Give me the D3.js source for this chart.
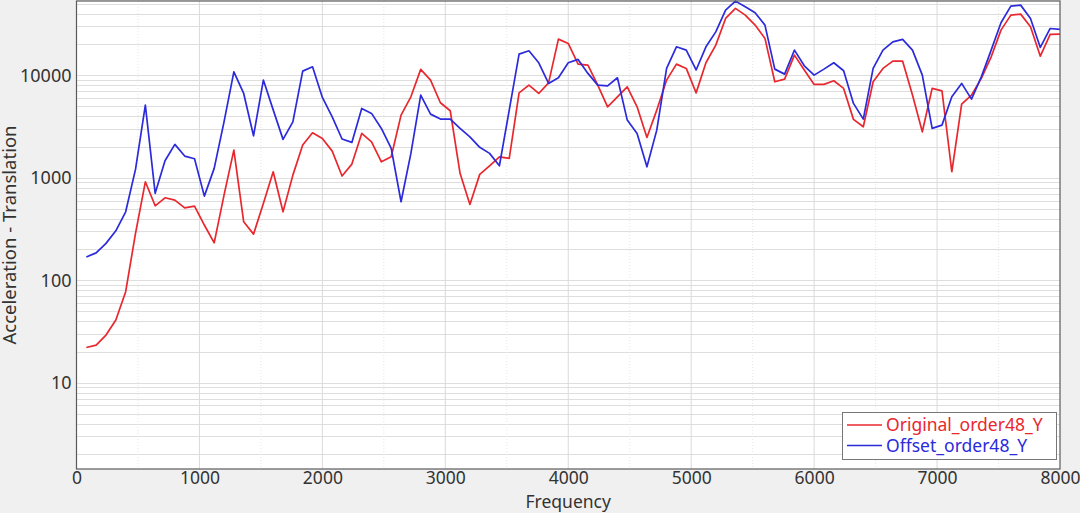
<!DOCTYPE html>
<html>
<head>
<meta charset="utf-8">
<script src="https://cdn.jsdelivr.net/npm/d3@7"></script>
<style>
html,body{margin:0;padding:0;background:#f0f0f0;}
svg{display:block;font-family:"Noto Sans","Open Sans",sans-serif;}
</style>
</head>
<body>
<svg id="chart" width="1080" height="513"></svg>
<script>
// Frequency (Hz), 80 Hz steps
const frequencies = d3.range(1, 101).map(k => k * 80);
const originalY = [
  22.1, 23.3, 29.2, 40.9, 77.3, 287, 914, 533, 638, 606,
  509, 529, 346, 232, 678, 1862, 372, 282, 562, 1145,
  466, 1062, 2085, 2750, 2420, 1820, 1040, 1360, 2710, 2245,
  1432, 1603, 4090, 6170, 11420, 8980, 5400, 4510, 1105, 550,
  1080, 1310, 1603, 1545, 6740, 8020, 6650, 8430, 22540, 20470,
  12850, 12580, 8020, 4930, 6170, 7720, 4930, 2477, 4570, 8980,
  12850, 11670, 6740, 13250, 19720, 35900, 44950, 38640, 30900, 22900,
  8650, 9180, 15740, 11250, 8150, 8150, 8840, 7450, 3715, 3145,
  8650, 11670, 13740, 13740, 6410, 2810, 7450, 7060, 1145, 5240,
  6410, 9330, 15140, 27600, 38640, 39550, 29720, 15380, 25060, 25240
];
const offsetY = [
  169, 185, 229, 304, 466, 1208, 5120, 705, 1466, 2118,
  1629, 1532, 662, 1236, 3515, 10810, 6650, 2570, 8980, 4600,
  2370, 3515, 10990, 12110, 6080, 3935, 2390, 2215, 4750, 4250,
  3030, 1937, 584, 1730, 6410, 4180, 3740, 3740, 3035, 2510,
  1982, 1730, 1310, 4570, 16100, 17350, 13250, 8340, 9460, 13250,
  14290, 10440, 8020, 7900, 9460, 3655, 2710, 1280, 2918, 11670,
  18970, 17620, 11270, 18970, 26550, 43250, 52950, 46560, 40700, 30900,
  11490, 10270, 17620, 12380, 10040, 11490, 13250, 11070, 5320, 3740,
  11670, 17620, 21230, 22400, 17620, 10040, 3035, 3265, 6170, 8340,
  5860, 9660, 17620, 32600, 47300, 48400, 35900, 18700, 28640, 28030
];
const seriesNames = ["Original_order48_Y", "Offset_order48_Y"];
const seriesColors = ["#e8282e", "#2b2bdb"];
const xTicks = [0, 1000, 2000, 3000, 4000, 5000, 6000, 7000, 8000];
const yTicks = [10, 100, 1000, 10000];

const svg = d3.select("#chart");
const L = 76.5, R = 1060, T = 1, B = 469;

const x = d3.scaleLinear().domain([0, 8000]).range([L, R]);
const y = d3.scaleLog().domain([1.44, 53100]).range([B, T]);

// plot background
svg.append("rect").attr("x", L).attr("y", T).attr("width", R - L).attr("height", B - T).attr("fill", "#ffffff");

// horizontal grid (1..9 per decade)
const hGrid = [];
for (let e = 0; e <= 4; e++) for (let m = 1; m <= 9; m++) {
  const v = m * Math.pow(10, e);
  if (v > 1.44 && v < 53100) hGrid.push(v);
}
svg.append("g").selectAll("line").data(hGrid).join("line")
  .attr("x1", L).attr("x2", R)
  .attr("y1", d => Math.round(y(d)) + 0.5).attr("y2", d => Math.round(y(d)) + 0.5)
  .attr("stroke", "#dedede").attr("stroke-width", 1);

// vertical grid: minor dotted at 500s, major at 1000s
const minorX = d3.range(500, 8000, 1000);
svg.append("g").selectAll("line").data(minorX).join("line")
  .attr("x1", d => x(d)).attr("x2", d => x(d)).attr("y1", T).attr("y2", B)
  .attr("stroke", "#e6e6e6").attr("stroke-dasharray", "1,2").attr("stroke-width", 1);
svg.append("g").selectAll("line").data(xTicks.filter(d => d > 0 && d < 8000)).join("line")
  .attr("x1", d => x(d)).attr("x2", d => x(d)).attr("y1", T).attr("y2", B)
  .attr("stroke", "#dadada").attr("stroke-width", 1);

// lines
const line = d3.line().x((d, i) => x(frequencies[i])).y(d => y(d));
[originalY, offsetY].forEach((s, i) => {
  svg.append("path").datum(s).attr("d", line)
    .attr("fill", "none").attr("stroke", seriesColors[i])
    .attr("stroke-width", 1.7).attr("stroke-linejoin", "round");
});

// border
svg.append("rect").attr("x", L).attr("y", T).attr("width", R - L).attr("height", B - T)
  .attr("fill", "none").attr("stroke", "#5a5a5a").attr("stroke-width", 1.2);

// axes
const xAxis = d3.axisBottom(x).tickValues(xTicks).tickSize(0).tickPadding(3).tickFormat(d3.format("d"));
const gx = svg.append("g").attr("transform", `translate(0,${B})`).call(xAxis);
gx.select(".domain").remove();
gx.selectAll("text").attr("font-size", 17.5).attr("fill", "#333").attr("font-family", "Noto Sans");

const yAxis = d3.axisLeft(y).tickValues(yTicks).tickSize(0).tickPadding(5).tickFormat(d3.format("d"));
const gy = svg.append("g").attr("transform", `translate(${L},0)`).call(yAxis);
gy.select(".domain").remove();
gy.selectAll("text").attr("font-size", 18).attr("fill", "#333").attr("font-family", "Noto Sans");

// axis titles
svg.append("text").attr("x", (L + R) / 2).attr("y", 508).attr("text-anchor", "middle")
  .attr("font-size", 17.5).attr("fill", "#333").text("Frequency");
svg.append("text").attr("transform", `translate(15.5,${(T + B) / 2}) rotate(-90)`)
  .attr("text-anchor", "middle").attr("font-size", 18.5).attr("fill", "#333")
  .text("Acceleration - Translation");

// legend
const lg = svg.append("g");
lg.append("rect").attr("x", 842.5).attr("y", 412.5).attr("width", 214).attr("height", 47)
  .attr("fill", "#ffffff").attr("stroke", "#777").attr("stroke-width", 1);
seriesNames.forEach((n, i) => {
  const cy = 425 + i * 20.5;
  lg.append("line").attr("x1", 847).attr("x2", 882).attr("y1", cy).attr("y2", cy)
    .attr("stroke", seriesColors[i]).attr("stroke-width", 1.7);
  lg.append("text").attr("x", 886).attr("y", cy).attr("dy", "0.35em")
    .attr("font-size", 17.5).attr("fill", seriesColors[i]).text(n);
});
</script>
</body>
</html>
